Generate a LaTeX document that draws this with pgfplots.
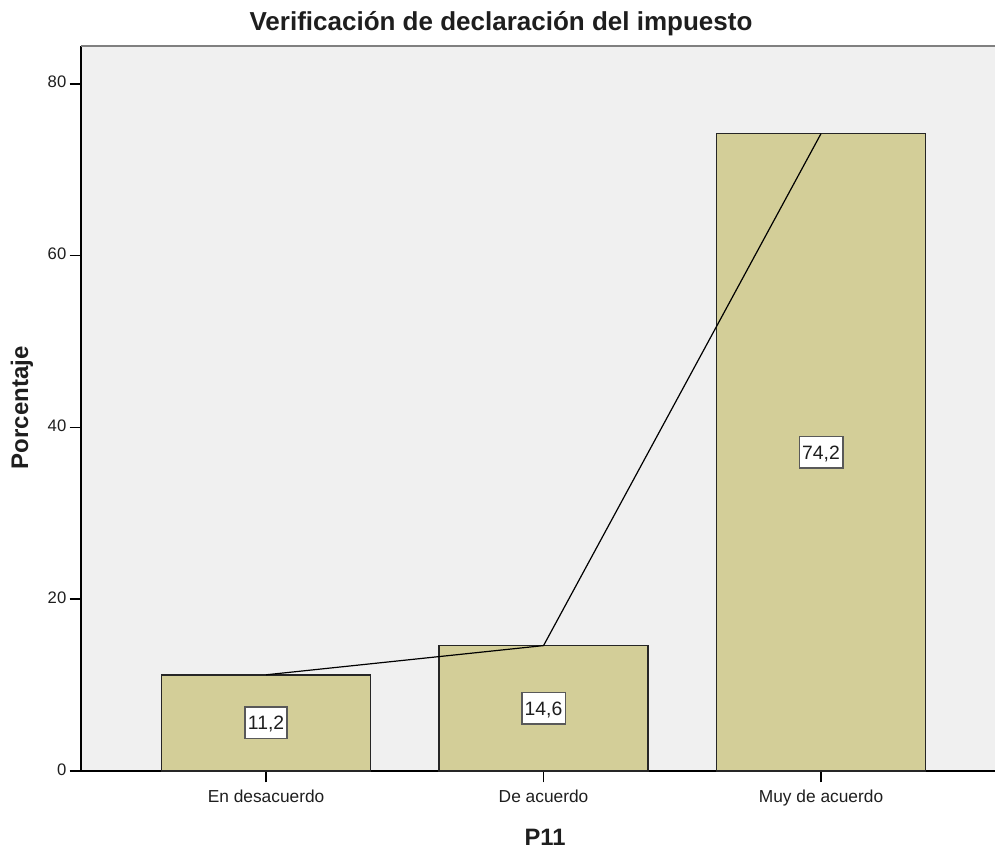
\documentclass[border=0pt]{standalone}
\usepackage{pgfplots}
\pgfplotsset{compat=1.18}
\usepackage{fontspec}
\setmainfont{Liberation Sans}
\definecolor{barfill}{RGB}{211,206,152}
\definecolor{plotbg}{RGB}{240,240,240}
\definecolor{txt}{RGB}{30,30,30}
\begin{document}
\begin{tikzpicture}
\begin{axis}[
  at={(0pt,0pt)}, anchor=south west,
  scale only axis,
  width=685.5pt, height=543.75pt,
  xmin=-0.667, xmax=2.627,
  ymin=0, ymax=84.4,
  axis x line=bottom, axis y line=left,
  axis line style={-, black, line width=1.2pt},
  axis background/.style={fill=plotbg},
  xtick={0,1,2},
  xticklabels={En desacuerdo, De acuerdo, Muy de acuerdo},
  ytick={0,20,40,60,80},
  tick align=outside,
  major tick length=8.5pt,
  tick style={black, line width=1.2pt},
  /pgf/number format/assume math mode=true,
  xticklabel style={font=\fontsize{13}{15}\selectfont, text=txt, yshift=-1pt},
  yticklabel style={font=\fontsize{12.5}{15}\selectfont, text=txt, xshift=1pt},
  typeset ticklabels with strut,
  title={Verificación de declaración del impuesto},
  title style={font=\bfseries\fontsize{19.5}{22}\selectfont, text=txt,
    at={(axis description cs:0.4595,1.011)}, anchor=base},
  xlabel={P11},
  xlabel style={font=\bfseries\fontsize{17.8}{20}\selectfont, text=txt,
    at={(axis description cs:0.5077,-0.1034)}, anchor=base},
  ylabel={Porcentaje},
  ylabel style={font=\bfseries\fontsize{18}{20}\selectfont, text=txt,
    at={(axis description cs:-0.0646,0.5007)}, anchor=center, rotate=0},
  clip=false,
]
\draw[gray, line width=1.5pt] (rel axis cs:0,1) -- (rel axis cs:1,1);
\addplot[ybar, bar width=0.753, bar shift=0pt, fill=barfill, draw=black!85, line width=1.1pt]
  coordinates {(0,11.2) (1,14.6) (2,74.2)};
\addplot[sharp plot, black, line width=0.9pt, mark=none]
  coordinates {(0,11.2) (1,14.6) (2,74.2)};
\addplot[sharp plot, draw=none, mark=none,
  nodes near coords, nodes near coords align={center},
  point meta=explicit symbolic,
  every node near coord/.style={anchor=center, fill=white, draw=black!65,
    line width=1.1pt, inner xsep=2.2pt, text height=10.4pt, text depth=0pt,
    inner ysep=6.6pt, font=\fontsize{14.5}{16}\selectfont, text=txt}]
  table[meta=lab] {
x y lab
0 5.6 {11,2}
1 7.3 {14,6}
2 37.1 {74,2}
};
\end{axis}
\pgfresetboundingbox
\path[use as bounding box] (-60.75pt,-59.25pt) rectangle (685.5pt,578.25pt);
\end{tikzpicture}
\end{document}
